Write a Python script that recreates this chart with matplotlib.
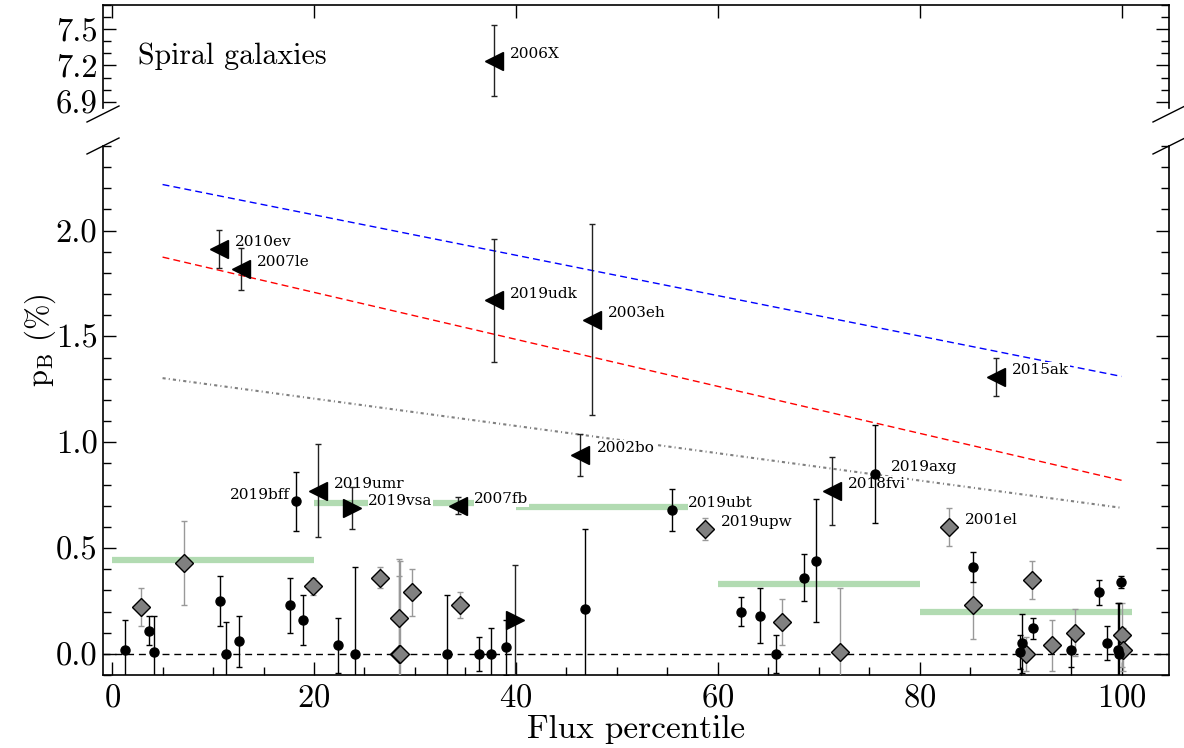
import numpy as np
import matplotlib
matplotlib.use('Agg')
from matplotlib import pyplot as plt
from matplotlib.lines import Line2D
from matplotlib.ticker import MultipleLocator, FormatStrFormatter

plt.rcParams['font.family'] = ['cmr10', 'DejaVu Serif']
plt.rcParams['mathtext.fontset'] = 'cm'
plt.rcParams['axes.formatter.use_mathtext'] = True

# black circles
circ_x = [1.3, 3.7, 4.2, 10.7, 11.25, 12.6, 17.6, 18.2, 18.9, 22.4, 24.1, 33.2, 36.3,
          37.5, 39.0, 46.8, 55.5, 62.3, 64.2, 65.8, 68.5, 69.7, 75.6, 85.3, 89.9,
          90.1, 91.2, 95.0, 97.8, 98.6, 99.6, 99.7, 99.9]
circ_y = [0.02, 0.11, 0.01, 0.25, 0.00, 0.06, 0.23, 0.72, 0.16, 0.04, 0.00, 0.00, 0.00,
          0.00, 0.03, 0.21, 0.68, 0.20, 0.18, 0.00, 0.36, 0.44, 0.85, 0.41, 0.01,
          0.05, 0.12, 0.02, 0.29, 0.05, 0.02, 0.00, 0.34]
circ_e = [0.14, 0.07, 0.17, 0.12, 0.15, 0.12, 0.13, 0.14, 0.12, 0.13, 0.41, 0.28, 0.08,
          0.12, 0.13, 0.38, 0.10, 0.07, 0.13, 0.09, 0.11, 0.29, 0.23, 0.07, 0.08,
          0.14, 0.05, 0.08, 0.06, 0.08, 0.22, 0.24, 0.03]
circ_names = {7: '2019bff', 16: '2019ubt', 22: '2019axg'}

# grey diamonds
diam_x = [2.9, 7.1, 19.9, 26.5, 28.4, 28.45, 28.55, 29.7, 34.5, 58.7, 66.4, 72.1,
          82.9, 85.3, 90.5, 91.1, 93.1, 95.4, 100.0, 100.1]
diam_y = [0.22, 0.43, 0.32, 0.36, 0.17, 0.00, 0.00, 0.29, 0.23, 0.59, 0.15, 0.01,
          0.60, 0.23, 0.00, 0.35, 0.04, 0.10, 0.09, 0.02]
diam_e = [0.09, 0.20, 0.04, 0.05, 0.20, 0.45, 0.44, 0.11, 0.06, 0.05, 0.11, 0.30,
          0.09, 0.16, 0.08, 0.09, 0.12, 0.11, 0.15, 0.10]
diam_names = {9: '2019upw', 12: '2001el'}

# left-pointing triangles
ltri_names = ['2010ev', '2007le', '2019udk', '2003eh', '2002bo', '2015ak', '2018fvi',
              '2019umr', '2007fb']
ltri_x = [10.6, 12.8, 37.8, 47.5, 46.4, 87.6, 71.3, 20.4, 34.3]
ltri_y = [1.915, 1.82, 1.67, 1.58, 0.94, 1.31, 0.77, 0.77, 0.70]
ltri_e = [0.09, 0.10, 0.29, 0.45, 0.10, 0.09, 0.16, 0.22, 0.04]

# right-pointing triangles
rtri_names = ['2019vsa', '']
rtri_x = [23.8, 39.9]
rtri_y = [0.69, 0.16]
rtri_e = [0.10, 0.26]

# upper panel
top_names = ['2006X']
top_x = [37.8]
top_y = [7.24]
top_e = [0.29]

# binned values
bin_edges = [0, 20, 40, 60, 80, 101]
bin_vals = [0.445, 0.715, 0.695, 0.33, 0.20]

# model lines (end points)
line_x = [5, 100]
blue_y = [2.218, 1.311]
red_y = [1.875, 0.82]
grey_y = [1.303, 0.69]

W, H = 1184, 748
fig = plt.figure(figsize=(W / 100, H / 100), dpi=100)
L, R = 103, 1169
ax_top = fig.add_axes([L / W, 1 - 108 / H, (R - L) / W, (108 - 4.7) / H])
ax = fig.add_axes([L / W, 1 - 675 / H, (R - L) / W, (675 - 146) / H])

lab_kw = dict(textcoords='offset points', va='center', fontsize=11,
              family='DejaVu Serif', zorder=2.5,
              bbox=dict(facecolor='white', edgecolor='none', pad=0.5))


def label(a, name, x, y, left=False):
    if not name:
        return
    if left:
        a.annotate(name, (x, y), xytext=(-4.5, 5), ha='right', **lab_kw)
    else:
        a.annotate(name, (x, y), xytext=(11.5, 5), ha='left', **lab_kw)


eb_kw = dict(capsize=2.5, elinewidth=1.0, capthick=1.0, linestyle='none', zorder=3)

# bottom panel
ax.axhline(0, color='k', lw=1, dashes=(5, 3.5), zorder=1)
for i in range(len(bin_vals)):
    ax.plot(bin_edges[i:i + 2], [bin_vals[i]] * 2, color='#b2dbb2', lw=4.5,
            solid_capstyle='butt', zorder=1.5)
ax.plot(line_x, blue_y, color='b', lw=1.0, dashes=(5, 3), zorder=1.2)
ax.plot(line_x, red_y, color='r', lw=1.0, dashes=(5, 3), zorder=1.2)
ax.plot(line_x, grey_y, color='grey', lw=1.5, dashes=(1.5, 1.5, 0.5, 1.5), zorder=1.2)

ax.errorbar(diam_x, diam_y, yerr=diam_e, marker='D', ms=9, mfc='grey', mec='k',
            mew=1, ecolor='#999999', **eb_kw)
ax.errorbar(circ_x, circ_y, yerr=circ_e, marker='o', ms=6.5, color='k', ecolor='k',
            **eb_kw)
ax.errorbar(ltri_x, ltri_y, yerr=ltri_e, marker='<', ms=12.5, color='k', ecolor='#222222',
            **eb_kw)
ax.errorbar(rtri_x, rtri_y, yerr=rtri_e, marker='>', ms=12.5, color='k', ecolor='#222222',
            **eb_kw)

for i, n in circ_names.items():
    label(ax, n, circ_x[i], circ_y[i], left=(n == '2019bff'))
for i, n in diam_names.items():
    label(ax, n, diam_x[i], diam_y[i])
for n, x, y in zip(ltri_names, ltri_x, ltri_y):
    label(ax, n, x, y)
for n, x, y in zip(rtri_names, rtri_x, rtri_y):
    label(ax, n, x, y)

# top panel
ax_top.errorbar(top_x, top_y, yerr=top_e, marker='<', ms=12.5, color='k',
                ecolor='#222222', **eb_kw)
for n, x, y in zip(top_names, top_x, top_y):
    label(ax_top, n, x, y)
ax_top.text(0.033, 0.5, 'Spiral galaxies', transform=ax_top.transAxes, va='center',
            ha='left', fontsize=21.5)

for a in (ax, ax_top):
    a.set_xlim(-0.9, 104.7)
    a.xaxis.set_major_locator(MultipleLocator(20))
    a.yaxis.set_major_formatter(FormatStrFormatter('%.1f'))
    a.yaxis.set_minor_locator(MultipleLocator(0.1))
    a.tick_params(which='both', direction='in', labelsize=23.5, width=1)
    a.tick_params(which='major', length=9.5)
    a.tick_params(which='minor', length=5.8)
    for s in a.spines.values():
        s.set_linewidth(1.2)

ax.set_ylim(-0.1, 2.4)
ax.yaxis.set_major_locator(MultipleLocator(0.5))
ax.xaxis.set_minor_locator(MultipleLocator(5))
ax.spines['top'].set_visible(False)
ax.tick_params(which='both', top=False, right=True, bottom=True, left=True)
ax.tick_params(axis='x', pad=6)
ax.tick_params(axis='y', pad=4)
ax.set_xlabel('Flux percentile', fontsize=24, labelpad=2)

ax_top.set_ylim(6.85, 7.7)
ax_top.yaxis.set_major_locator(MultipleLocator(0.3))
ax_top.spines['bottom'].set_visible(False)
ax_top.tick_params(axis='x', which='both', top=True, bottom=False, labelbottom=False)
ax_top.tick_params(axis='x', which='minor', top=False)
ax_top.tick_params(axis='y', which='both', left=True, right=True, pad=4)

fig.text(40 / W, 1 - 340 / H, r'$\mathrm{p_B}$ (%)', rotation=90, va='center',
         ha='center', fontsize=22)

# axis break marks
for xc in (L, R):
    for yc in (114, 146):
        fig.add_artist(Line2D([(xc - 16) / W, (xc + 16) / W],
                              [1 - (yc + 8) / H, 1 - (yc - 8) / H],
                              transform=fig.transFigure, color='k', lw=1))

fig.savefig('out.png', dpi=100)
